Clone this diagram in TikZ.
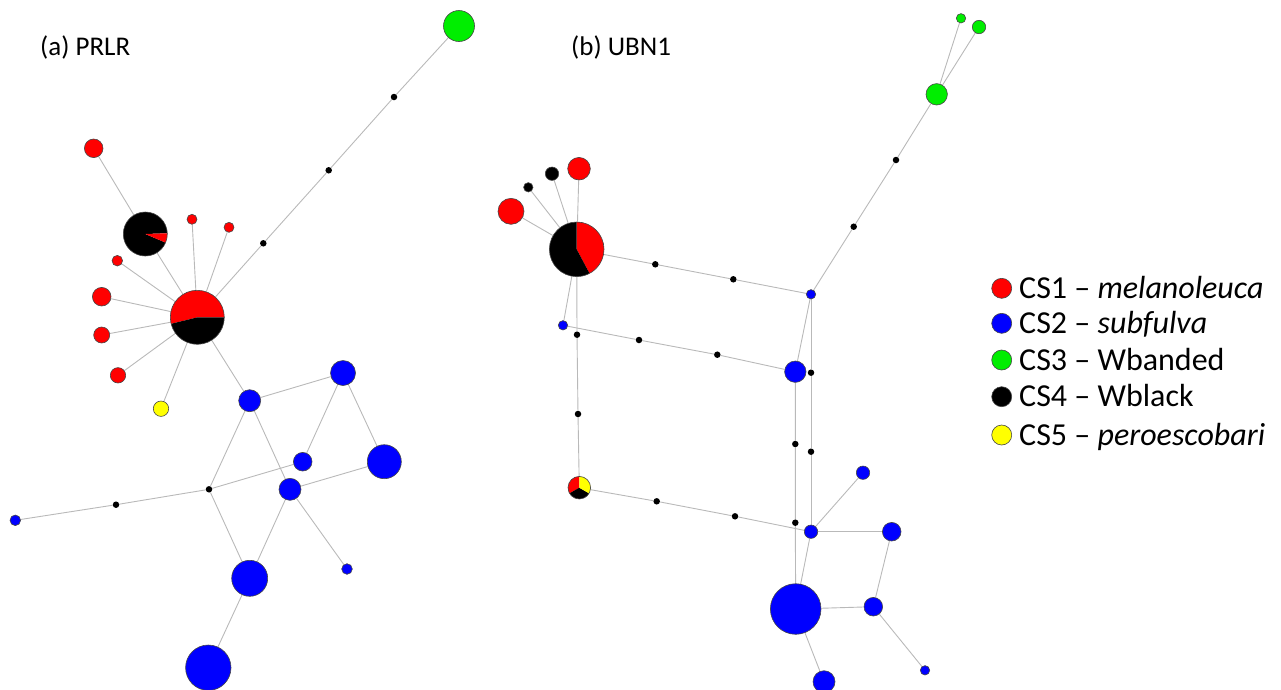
\documentclass[tikz,border=0pt]{standalone}
\usepackage{fontspec}
\setmainfont{Carlito}
\pgfdeclarelayer{bg}
\pgfdeclarelayer{mid}
\pgfsetlayers{bg,mid,main}
\definecolor{hred}{RGB}{255,0,0}
\definecolor{hblue}{RGB}{0,0,255}
\definecolor{hgreen}{RGB}{0,238,0}
\definecolor{hyellow}{RGB}{255,255,0}
\definecolor{edgegray}{RGB}{185,185,185}
\definecolor{rimgray}{RGB}{70,70,70}
\newcommand{\slice}[5]{\fill[#5] (#1) -- ++(#2:#4) arc[start angle=#2, end angle=#3, radius=#4] -- cycle;}
\tikzset{
  hap/.style={circle, draw=rimgray, line width=0.6pt, inner sep=0pt, minimum size=#1},
  rd/.style={hap=#1, fill=hred},
  bl/.style={hap=#1, fill=hblue},
  gr/.style={hap=#1, fill=hgreen},
  ye/.style={hap=#1, fill=hyellow},
  bk/.style={hap=#1, fill=black},
  pie/.style={circle, draw=rimgray, line width=0.6pt, inner sep=0pt, minimum size=#1},
  mv/.style={circle, fill=black, inner sep=0pt, minimum size=6.5pt},
  edge/.style={draw=edgegray, line width=0.9pt},
  title/.style={font=\fontsize{27}{32}\selectfont, anchor=base west, inner sep=0pt},
  legtext/.style={font=\fontsize{32}{38}\selectfont, anchor=base west, inner sep=0pt},
}
\begin{document}
\begin{tikzpicture}[x=1pt,y=-1pt]
\useasboundingbox (0,0) rectangle (1281,689);
% ---------- titles
\node[title] (ta) at (40,55) {(a) PRLR};
\node[title] (tb) at (571,55) {(b) UBN1};
% ---------- (a) PRLR nodes
\node[gr=31pt] (pG) at (459,26) {};
\node[mv] (pd1) at (394,97) {};
\node[mv] (pd2) at (328.7,170.3) {};
\node[mv] (pd3) at (263.3,243.3) {};
\node[pie=54pt] (pH) at (197.3,317.3) {};
\node[rd=18.6pt] (pR1) at (93.7,148.3) {};
\node[pie=44pt] (pB) at (145.3,234) {};
\node[rd=10pt] (pR2) at (192,219.3) {};
\node[rd=10pt] (pR3) at (229,227.3) {};
\node[rd=10.6pt] (pR4) at (117.3,260.7) {};
\node[rd=18.6pt] (pR5) at (101.7,296.7) {};
\node[rd=16pt] (pR6) at (101.7,335) {};
\node[rd=15.4pt] (pR7) at (118,375.3) {};
\node[ye=15.4pt] (pY) at (161,408.7) {};
\node[bl=22pt] (pA) at (249.7,400.7) {};
\node[bl=25pt] (pBb) at (343,373) {};
\node[bl=18.6pt] (pC) at (302.7,461.7) {};
\node[bl=34pt] (pD) at (384.3,461.7) {};
\node[bl=22pt] (pE) at (290,489.3) {};
\node[mv] (pdx) at (209,489.3) {};
\node[mv] (pdy) at (116,504.7) {};
\node[bl=10.6pt] (pS) at (15.3,520.3) {};
\node[bl=36pt] (pF) at (249.7,578.3) {};
\node[bl=10.6pt] (pT) at (347,569) {};
\node[bl=45.4pt] (pGg) at (208.3,667.7) {};
\begin{pgfonlayer}{mid}
\slice{pH.center}{0}{194}{27pt}{hred}
\slice{pH.center}{194}{360}{27pt}{black}
\slice{pB.center}{2}{337}{22pt}{black}
\slice{pB.center}{-23}{2}{22pt}{hred}
\end{pgfonlayer}
% ---------- (b) UBN1 nodes
\node[pie=54.6pt] (uH) at (576.7,249.3) {};
\node[rd=26pt] (uR1) at (511,211.3) {};
\node[bk=9.4pt] (uK1) at (528.3,187.3) {};
\node[bk=13.4pt] (uK2) at (552,173.7) {};
\node[rd=22.6pt] (uR2) at (579,168.7) {};
\node[bl=9.4pt] (uS) at (563,325.3) {};
\node[mv] (ud1) at (577,334.7) {};
\node[mv] (ud2) at (578,414) {};
\node[pie=22.6pt] (uP) at (579.3,487.7) {};
\node[mv] (ud3) at (655.3,264.3) {};
\node[mv] (ud4) at (733.3,279.3) {};
\node[bl=9.4pt] (uB1) at (811,294.3) {};
\node[mv] (ud5) at (853.7,226.7) {};
\node[mv] (ud6) at (896,160) {};
\node[gr=21.4pt] (uG) at (936.7,94.3) {};
\node[gr=9.4pt] (uG2) at (961,18.3) {};
\node[gr=13.4pt] (uG3) at (979,27) {};
\node[mv] (ud7) at (639,340) {};
\node[mv] (ud8) at (717.3,354.7) {};
\node[bl=21.4pt] (uB2) at (795.3,371.7) {};
\node[mv] (ud9) at (811,372.7) {};
\node[mv] (ud10) at (811,451.7) {};
\node[bl=13.4pt] (uB3) at (811,531.7) {};
\node[mv] (ud11) at (795.3,444) {};
\node[mv] (ud12) at (795.3,522.7) {};
\node[bl=50.6pt] (uBig) at (795.7,609) {};
\node[mv] (ud13) at (656.7,501.3) {};
\node[mv] (ud14) at (735,516.3) {};
\node[bl=13.4pt] (uB4) at (863,472.7) {};
\node[bl=18.6pt] (uB5) at (891.7,531.7) {};
\node[bl=18.6pt] (uB6) at (873.3,606.7) {};
\node[bl=9.4pt] (uB7) at (925,670.3) {};
\node[bl=22pt] (uB8) at (824,681.7) {};
\begin{pgfonlayer}{mid}
\slice{uH.center}{-62}{90}{27.3pt}{hred}
\slice{uH.center}{90}{298}{27.3pt}{black}
\slice{uP.center}{90}{210}{11.3pt}{hred}
\slice{uP.center}{210}{330}{11.3pt}{black}
\slice{uP.center}{330}{450}{11.3pt}{hyellow}
\end{pgfonlayer}
% ---------- edges
\begin{pgfonlayer}{bg}
\draw[edge] (pH) -- (pd3) -- (pd2) -- (pd1) -- (pG);
\draw[edge] (pH) -- (pB) -- (pR1);
\draw[edge] (pH) -- (pR2);
\draw[edge] (pH) -- (pR3);
\draw[edge] (pH) -- (pR4);
\draw[edge] (pH) -- (pR5);
\draw[edge] (pH) -- (pR6);
\draw[edge] (pH) -- (pR7);
\draw[edge] (pH) -- (pY);
\draw[edge] (pH) -- (pA);
\draw[edge] (pA) -- (pBb);
\draw[edge] (pBb) -- (pC);
\draw[edge] (pBb) -- (pD);
\draw[edge] (pA) -- (pdx);
\draw[edge] (pA) -- (pE);
\draw[edge] (pdx) -- (pC);
\draw[edge] (pdx) -- (pdy) -- (pS);
\draw[edge] (pdx) -- (pF);
\draw[edge] (pE) -- (pF);
\draw[edge] (pE) -- (pD);
\draw[edge] (pE) -- (pT);
\draw[edge] (pF) -- (pGg);
% UBN1
\draw[edge] (uH) -- (uR1);
\draw[edge] (uH) -- (uK1);
\draw[edge] (uH) -- (uK2);
\draw[edge] (uH) -- (uR2);
\draw[edge] (uH) -- (uS);
\draw[edge] (uH) -- (ud1) -- (ud2) -- (uP);
\draw[edge] (uH) -- (ud3) -- (ud4) -- (uB1);
\draw[edge] (uB1) -- (ud5) -- (ud6) -- (uG);
\draw[edge] (uG) -- (uG2);
\draw[edge] (uG) -- (uG3);
\draw[edge] (uS) -- (ud7) -- (ud8) -- (uB2);
\draw[edge] (uB1) -- (uB2);
\draw[edge] (uB1) -- (ud9) -- (ud10) -- (uB3);
\draw[edge] (uB2) -- (ud11) -- (ud12) -- (uBig);
\draw[edge] (uP) -- (ud13) -- (ud14) -- (uB3);
\draw[edge] (uB3) -- (uB4);
\draw[edge] (uB3) -- (uB5);
\draw[edge] (uB3) -- (uBig);
\draw[edge] (uBig) -- (uB6);
\draw[edge] (uB5) -- (uB6);
\draw[edge] (uB6) -- (uB7);
\draw[edge] (uBig) -- (uB8);
\end{pgfonlayer}
% ---------- legend
\node[rd=20pt] (l1) at (1001.7,288.3) {};
\node[bl=20pt] (l2) at (1001.7,323.3) {};
\node[gr=20pt] (l3) at (1001.7,360) {};
\node[bk=20pt] (l4) at (1001.7,396.7) {};
\node[ye=20pt] (l5) at (1001.7,435) {};
\node[legtext] (t1) at (1019,298.5) {CS1 – \textit{melanoleuca}};
\node[legtext] (t2) at (1019,333.5) {CS2 – \textit{subfulva}};
\node[legtext] (t3) at (1019,370.2) {CS3 – Wbanded};
\node[legtext] (t4) at (1019,406.9) {CS4 – Wblack};
\node[legtext] (t5) at (1019,445.2) {CS5 – \textit{peroescobari}};
\end{tikzpicture}
\end{document}
